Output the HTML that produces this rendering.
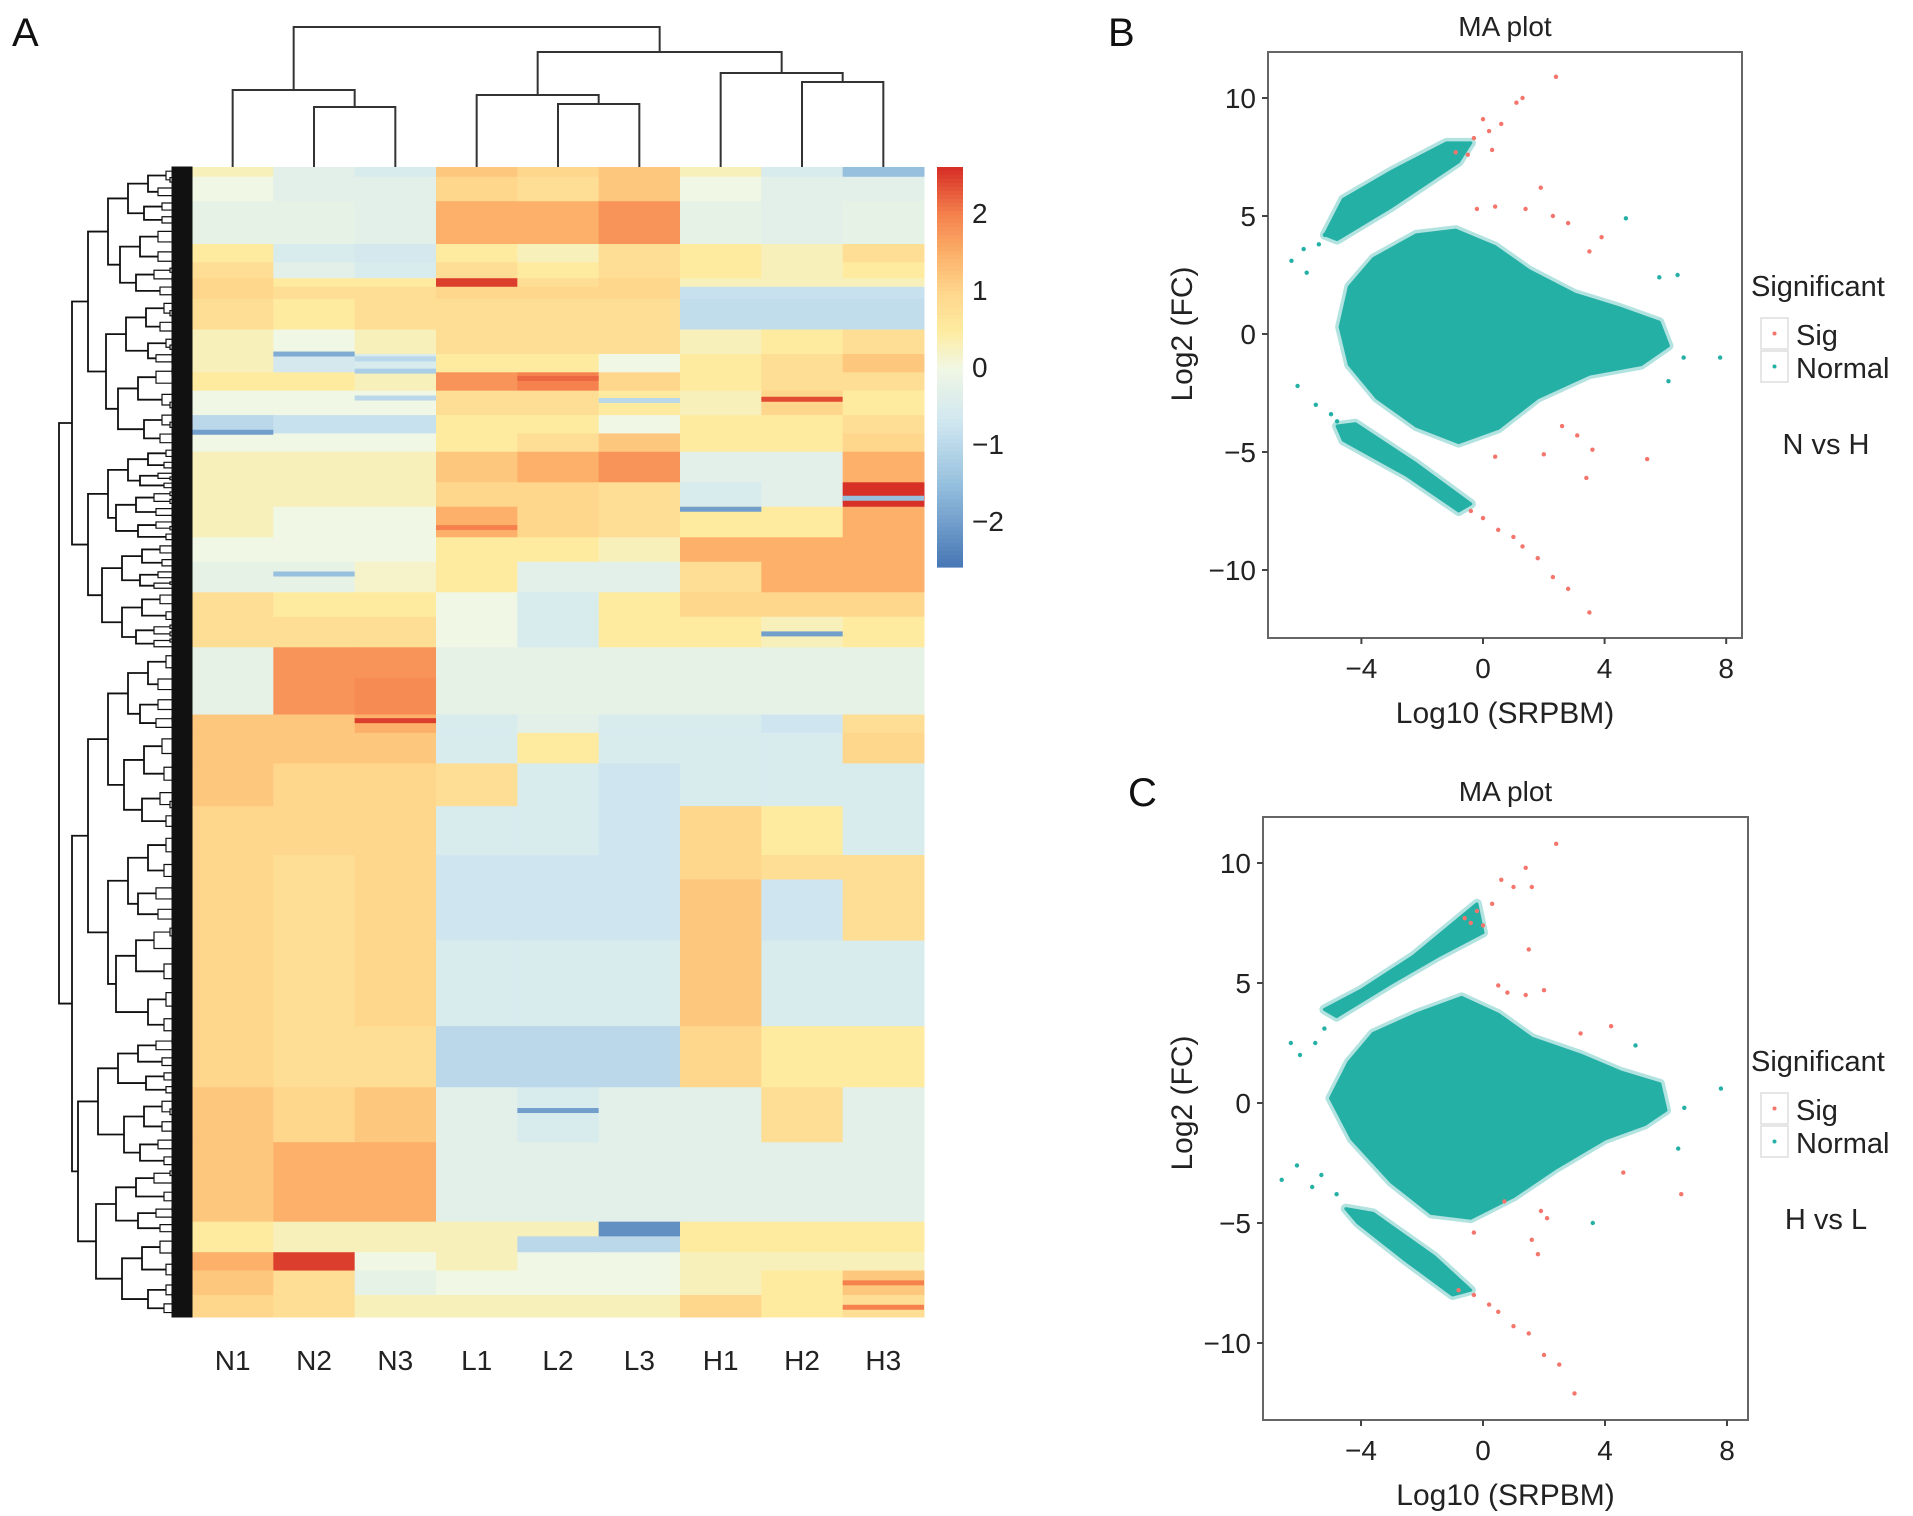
<!DOCTYPE html>
<html><head><meta charset="utf-8"><style>
html,body{margin:0;padding:0;background:#fff}
svg{display:block;font-family:"Liberation Sans",sans-serif}
</style></head><body>
<svg id="fig" width="1913" height="1516" viewBox="0 0 1913 1516" xmlns="http://www.w3.org/2000/svg">
<g id="heat"></g>
<g id="pb"></g>
<g id="pc"></g>
</svg>
<script>
// ---------- Heatmap data ----------
const samples = ["N1","N2","N3","L1","L2","L3","H1","H2","H3"];
// band start rows (reference row units: 137 = top, 1078 = bottom)
const bandStarts = [137,145,165,200,215,228,235,245,270,290,305,320,340,355,370,395,415,440,460,485,505,530,555,585,600,625,660,700,720,770,840,890,935,1000,1012,1025,1040,1060];
const bandEnd = 1078;
const bandValues = [
 [0.3,-0.3,-0.5,1.2,1.0,1.2,0.3,-0.5,-1.5],
 [0,-0.3,-0.3,1.0,0.8,1.2,0,-0.3,-0.3],
 [-0.2,-0.2,-0.3,1.5,1.5,1.8,-0.2,-0.3,-0.2],
 [0.5,-0.5,-0.6,0.5,0.3,0.8,0.5,0.3,0.8],
 [0.8,-0.3,-0.5,0.8,0.5,0.8,0.5,0.3,0.5],
 [1.0,0.5,0.5,2.5,0.8,1.0,0.3,0.3,0.3],
 [1.0,0.8,0.8,1.0,1.0,1.0,-0.8,-0.8,-0.8],
 [0.8,0.5,0.8,0.8,0.8,0.8,-0.9,-0.9,-0.9],
 [0.3,0,0.3,0.8,0.8,0.8,0.3,0.5,0.8],
 [0.3,-0.6,-0.5,0.5,0.5,0,0.5,0.8,1.2],
 [0.5,0.5,0.3,1.8,2.0,1.0,0.5,0.8,0.8],
 [0,0,0,0.8,0.8,0.5,0.3,1.0,0.5],
 [-1.0,-0.8,-0.8,0.5,0.5,0,0.5,0.5,0.8],
 [0,0,0,0.5,0.8,1.2,0.5,0.5,1.0],
 [0.3,0.3,0.3,1.2,1.5,1.8,-0.3,-0.3,1.5],
 [0.3,0.3,0.3,1.0,1.0,0.8,-0.5,-0.3,2.7],
 [0.3,0,0,1.5,1.0,0.8,0.5,0.5,1.5],
 [0,0,0,0.5,0.5,0.3,1.5,1.5,1.5],
 [-0.2,-0.2,0.2,0.5,-0.3,-0.3,0.8,1.5,1.5],
 [0.8,0.5,0.5,0,-0.5,0.5,1.0,1.0,1.0],
 [0.8,0.8,0.8,0,-0.5,0.5,0.5,0.3,0.5],
 [-0.2,1.8,1.8,-0.2,-0.2,-0.2,-0.2,-0.2,-0.2],
 [-0.2,1.8,1.9,-0.2,-0.2,-0.2,-0.2,-0.2,-0.2],
 [1.2,1.2,1.5,-0.5,-0.3,-0.5,-0.5,-0.7,0.8],
 [1.2,1.2,1.2,-0.5,0.5,-0.5,-0.5,-0.5,1.0],
 [1.2,1.0,1.0,0.8,-0.5,-0.7,-0.5,-0.5,-0.5],
 [1.0,1.0,1.0,-0.5,-0.5,-0.7,1.0,0.5,-0.5],
 [1.0,0.8,1.0,-0.7,-0.7,-0.7,1.0,0.8,0.8],
 [1.0,0.8,1.0,-0.7,-0.7,-0.7,1.2,-0.7,0.8],
 [1.0,0.8,1.0,-0.5,-0.5,-0.5,1.2,-0.5,-0.5],
 [1.0,0.8,0.8,-1.0,-1.0,-1.0,1.0,0.5,0.5],
 [1.2,1.0,1.2,-0.3,-0.5,-0.3,-0.3,0.8,-0.3],
 [1.2,1.5,1.5,-0.3,-0.3,-0.3,-0.3,-0.3,-0.3],
 [0.5,0.3,0.3,0.3,0.3,-2.2,0.5,0.5,0.5],
 [0.5,0.3,0.3,0.3,-1.0,-1.0,0.5,0.5,0.5],
 [1.5,2.5,0,0.3,0,0,0.3,0.3,0.3],
 [1.2,0.8,-0.2,0,0,0,0.3,0.5,1.2],
 [1.0,0.8,0.3,0.3,0.3,0.3,1.0,0.5,0.8]
];
// thin accent stripes: [row, column index, value]
const accentRows = [288,352,308,325,415,517,588,907,292,302,324,326,406,430,468,1048,1068];
const accentCols = [1,0,4,7,6,7,2,4,2,2,2,5,8,3,1,8,8];
const accentVals = [-1.8,-2.0,2.2,2.4,-2.0,-2.0,2.5,-2.0,-1.0,-1.2,-1.0,-1.0,-1.5,2.0,-1.5,2.0,2.0];
const colorTicks = [2,1,0,-1,-2];
// column dendrogram merges: [left, right, height above heatmap]
const colMerges = [[1,2,60],[0,9,77],[4,5,63],[3,11,72],[7,8,85],[6,13,94],[12,14,115],[10,15,140]];

// ---------- MA plot data ----------
const xTicks = [-4,0,4,8];
const yTicks = [10,5,0,-5,-10];
const cloudB = [[-4.7,0.3],[-4.4,2],[-3.6,3.2],[-2.2,4.2],[-0.9,4.4],[0.4,3.7],[1.5,2.7],[3,1.7],[4.5,1.1],[5.8,0.5],[6.1,-0.5],[5.2,-1.3],[3.5,-1.7],[1.8,-2.7],[0.5,-4.0],[-0.8,-4.6],[-2.2,-3.9],[-3.5,-2.7],[-4.4,-1.3]];
const upperB = [[-5.2,4.2],[-4.6,5.7],[-3,6.9],[-1.2,8.1],[-0.4,8.1],[-0.8,7.3],[-3,5.4],[-4.8,4.0]];
const lowerB = [[-4.8,-3.9],[-4.6,-4.5],[-2.5,-6.0],[-0.8,-7.5],[-0.4,-7.2],[-2.2,-5.5],[-4.2,-3.8]];
const tealB = [[-6.3,3.1],[-5.9,3.6],[-5.8,2.6],[-5.4,3.8],[-5.2,4.2],[-6.1,-2.2],[-5.5,-3.0],[-5.0,-3.4],[-4.8,-3.7],[4.7,4.9],[6.6,-1.0],[7.8,-1.0],[5.8,2.4],[6.4,2.5],[6.1,-2.0],[4.6,-0.9]];
const sigB = [[-0.3,8.3],[0.2,8.6],[0.6,8.9],[0.0,9.1],[1.3,10.0],[1.1,9.8],[2.4,10.9],[-0.5,7.6],[-0.9,7.7],[0.3,7.8],[1.9,6.2],[0.4,5.4],[-0.2,5.3],[1.4,5.3],[2.3,5.0],[2.8,4.7],[3.9,4.1],[3.5,3.5],[0.0,-7.8],[0.5,-8.3],[1.0,-8.6],[1.3,-9.0],[1.8,-9.5],[2.3,-10.3],[2.8,-10.8],[3.5,-11.8],[-0.4,-7.5],[2.0,-5.1],[3.6,-4.9],[5.4,-5.3],[3.4,-6.1],[0.4,-5.2],[2.6,-3.9],[3.1,-4.3]];
const cloudC = [[-5.0,0.2],[-4.4,1.7],[-3.6,2.9],[-2.2,3.7],[-0.7,4.4],[0.5,3.7],[1.6,2.7],[3.2,2.0],[4.5,1.3],[5.8,0.8],[6.0,-0.3],[5.3,-0.9],[4.0,-1.5],[2.4,-2.7],[1.0,-3.9],[-0.4,-4.8],[-1.7,-4.6],[-3.0,-3.3],[-4.3,-1.5]];
const upperC = [[-5.2,3.9],[-4.0,4.7],[-2.3,6.1],[-0.2,8.3],[0.0,7.1],[-1.5,6.1],[-3.0,5.0],[-4.8,3.6]];
const lowerC = [[-4.5,-4.4],[-4.1,-5.0],[-2.6,-6.5],[-1.0,-8.0],[-0.4,-7.8],[-1.6,-6.4],[-3.6,-4.6]];
const tealC = [[-6.3,2.5],[-6.0,2.0],[-5.5,2.5],[-5.2,3.1],[-6.6,-3.2],[-6.1,-2.6],[-5.6,-3.5],[-5.3,-3.0],[-4.8,-3.8],[6.6,-0.2],[7.8,0.6],[6.4,-1.9],[5.0,2.4],[3.6,-5.0],[5.3,-0.3]];
const sigC = [[-0.2,8.0],[0.3,8.3],[0.6,9.3],[1.0,9.0],[1.4,9.8],[1.6,9.0],[2.4,10.8],[-0.4,7.5],[-0.6,7.7],[0.0,7.4],[1.5,6.4],[0.8,4.6],[0.5,4.9],[1.4,4.5],[2.0,4.7],[1.9,-4.5],[1.6,-5.7],[1.8,-6.3],[0.7,-4.1],[-0.3,-5.4],[-0.8,-7.8],[-0.3,-8.0],[0.2,-8.4],[0.5,-8.7],[1.0,-9.3],[1.5,-9.6],[2.0,-10.5],[2.5,-10.9],[3.0,-12.1],[4.2,3.2],[3.2,2.9],[4.6,-2.9],[6.5,-3.8],[2.1,-4.8]];

const NS="http://www.w3.org/2000/svg";
function mk(tag, attrs, parent){const e=document.createElementNS(NS,tag);for(const k in attrs)e.setAttribute(k,attrs[k]);parent.appendChild(e);return e;}
const stops=[[-2.6,[69,117,180]],[-1.5,[150,192,222]],[-0.7,[207,230,240]],[0,[240,247,228]],[0.5,[254,235,160]],[1.0,[254,214,140]],[1.5,[252,176,105]],[2.0,[245,130,78]],[2.6,[215,48,39]]];
function col(v){if(v<=stops[0][0])return `rgb(${stops[0][1]})`;for(let i=1;i<stops.length;i++){if(v<=stops[i][0]){const a=stops[i-1],b=stops[i],t=(v-a[0])/(b[0]-a[0]);return `rgb(${a[1].map((c,j)=>Math.round(c+(b[1][j]-c)*t)).join(',')})`;}}return `rgb(${stops[stops.length-1][1]})`;}

// ---------- Heatmap ----------
const H=document.getElementById('heat');
const hx0=192,hx1=924,hy0=167,hy1=1317,cw=(hx1-hx0)/samples.length;
const rowY=r=>hy0+((r-bandStarts[0])/(bandEnd-bandStarts[0]))*(hy1-hy0);
bandValues.forEach((vals,bi)=>{
  const y0=rowY(bandStarts[bi]), y1=rowY(bi+1<bandStarts.length?bandStarts[bi+1]:bandEnd);
  vals.forEach((v,ci)=>{
    const r=mk('rect',{x:hx0+ci*cw,y:y0,width:cw+0.5,height:y1-y0+0.5,fill:col(v)},H);
    
    
  });
});
accentRows.forEach((r,i)=>{
  const a=mk('rect',{x:hx0+accentCols[i]*cw,y:rowY(r),width:cw,height:5,fill:col(accentVals[i])},H);
  
  
});
samples.forEach((s,i)=>{
  const t=mk('text',{x:hx0+cw*(i+0.5),y:1370,'font-size':28,'text-anchor':'middle',fill:'#222'},H);t.textContent=s;
  
  
});
const nodes=samples.map((s,i)=>({x:hx0+cw*(i+0.5),h:0}));
const cd=mk('g',{stroke:'#333','stroke-width':2,fill:'none'},H);


colMerges.forEach(m=>{const a=nodes[m[0]],b=nodes[m[1]],y=hy0-m[2];
  mk('path',{d:`M${a.x},${hy0-a.h}V${y}H${b.x}V${hy0-b.h}`},cd);nodes.push({x:(a.x+b.x)/2,h:m[2]});});
const rd=mk('g',{stroke:'#111',fill:'none'},H);


function tree(y0,y1,depth){
  if(depth>=8){return {y:(y0+y1)/2,x:hx0};}
  const f=[0.45,0.55,0.5,0.42,0.58,0.5,0.5,0.5][depth];
  const ym=y0+(y1-y0)*(f+((depth%2)?0.03:-0.03));
  const a=tree(y0,ym,depth+1),b=tree(ym,y1,depth+1);
  const xs=[53,66,82,102,122,142,160,176][depth];
  const x=xs+((Math.round(y0)%7)-3)*2;
  mk('path',{d:`M${a.x},${a.y}H${x}V${b.y}H${b.x}`,'stroke-width':depth>5?1.2:1.8},rd);
  return {x:x,y:(a.y+b.y)/2};
}
tree(hy0,hy1,0);
mk('rect',{x:172,y:hy0,width:20,height:hy1-hy0,fill:'#111'},rd);
const cb=mk('g',{},H);
const cby0=167,cby1=567,cbv0=2.6,cbv1=-2.6;const cbY=v=>cby0+(cbv0-v)/(cbv0-cbv1)*(cby1-cby0);
for(let i=0;i<100;i++){const v=cbv0-(cbv0-cbv1)*i/100;mk('rect',{x:937,y:cby0+(cby1-cby0)*i/100,width:26,height:(cby1-cby0)/100+0.6,fill:col(v)},cb);}
colorTicks.forEach(v=>{const t=mk('text',{x:972,y:cbY(v)+10,'font-size':28,fill:'#222'},cb);t.textContent=(v<0?'\u2212':'')+Math.abs(v);
  });
const la=mk('text',{x:12,y:46,'font-size':40,fill:'#111'},H);la.textContent='A';

// ---------- MA plots ----------
function maPlot(g,cfg){
  const X=v=>cfg.x0+v*cfg.ux, Y=v=>cfg.y0-v*cfg.uy;
  const frame=mk('rect',{x:cfg.bx0,y:cfg.by0,width:cfg.bx1-cfg.bx0,height:cfg.by1-cfg.by0,fill:'#fff',stroke:'#666','stroke-width':2},g);
  
  const poly=(pts,nm)=>{const pp=pts.map(q=>X(q[0])+','+Y(q[1])).join(' ');
    mk('polygon',{points:pp,fill:'none',stroke:'#25b0a6','stroke-width':10,opacity:0.35,'stroke-linejoin':'round'},g);
    const p=mk('polygon',{points:pp,fill:'#25b0a6',stroke:'#25b0a6','stroke-width':3,'stroke-linejoin':'round'},g);
    };
  poly(cfg.cloud,'normal-cloud');poly(cfg.upper,'normal-upper-band');poly(cfg.lower,'normal-lower-band');
  cfg.teal.forEach(p=>{const c=mk('circle',{cx:X(p[0]),cy:Y(p[1]),r:2.2,fill:'#25b0a6'},g);});
  cfg.sig.forEach(p=>{const c=mk('circle',{cx:X(p[0]),cy:Y(p[1]),r:2.2,fill:'#f4756c'},g);});
  xTicks.forEach(v=>{mk('line',{x1:X(v),x2:X(v),y1:cfg.by1,y2:cfg.by1+6,stroke:'#444','stroke-width':2},g);
    const t=mk('text',{x:X(v),y:cfg.by1+40,'font-size':28,'text-anchor':'middle',fill:'#222'},g);t.textContent=(v<0?'\u2212':'')+Math.abs(v);
    });
  yTicks.forEach(v=>{mk('line',{x1:cfg.bx0-6,x2:cfg.bx0,y1:Y(v),y2:Y(v),stroke:'#444','stroke-width':2},g);
    const t=mk('text',{x:cfg.bx0-12,y:Y(v)+10,'font-size':28,'text-anchor':'end',fill:'#222'},g);t.textContent=(v<0?'\u2212':'')+Math.abs(v);
    });
  const tt=mk('text',{x:(cfg.bx0+cfg.bx1)/2,y:cfg.by0-16,'font-size':28,'text-anchor':'middle',fill:'#222'},g);tt.textContent='MA plot';
  
  const xl=mk('text',{x:(cfg.bx0+cfg.bx1)/2,y:cfg.by1+85,'font-size':30,'text-anchor':'middle',fill:'#222'},g);xl.textContent='Log10 (SRPBM)';
  
  const yl=mk('text',{x:0,y:0,'font-size':30,'text-anchor':'middle',fill:'#222',transform:`translate(1192,${cfg.y0}) rotate(-90)`},g);yl.textContent='Log2 (FC)';
  
  const ly=cfg.legY;
  const lt=mk('text',{x:1751,y:ly,'font-size':29,fill:'#222'},g);lt.textContent='Significant';
  [['Sig','#f4756c'],['Normal','#25b0a6']].forEach((e,i)=>{const yy=ly+22+i*33;
    mk('rect',{x:1761,y:yy,width:27,height:31,fill:'#fff',stroke:'#ddd','stroke-width':1.5},g);
    mk('circle',{cx:1774.5,cy:yy+15.5,r:2,fill:e[1]},g);
    const t=mk('text',{x:1796,y:yy+27,'font-size':29,fill:'#222'},g);t.textContent=e[0];
    });
  const cmp=mk('text',{x:1826,y:ly+158,'font-size':29,'text-anchor':'middle',fill:'#222'},g);cmp.textContent=cfg.cmp;
  
  const pl=mk('text',{x:cfg.lx,y:cfg.ly,'font-size':40,fill:'#111'},g);pl.textContent=cfg.letter;
  
}
maPlot(document.getElementById('pb'),{x0:1483,ux:30.4,y0:334,uy:23.6,bx0:1268,bx1:1742,by0:52,by1:638,
  cloud:cloudB,upper:upperB,lower:lowerB,teal:tealB,sig:sigB,legY:296,cmp:'N vs H',letter:'B',lx:1108,ly:46});
maPlot(document.getElementById('pc'),{x0:1483,ux:30.5,y0:1103,uy:24,bx0:1263,bx1:1748,by0:817,by1:1420,
  cloud:cloudC,upper:upperC,lower:lowerC,teal:tealC,sig:sigC,legY:1071,cmp:'H vs L',letter:'C',lx:1128,ly:806});
</script>
</body></html>
